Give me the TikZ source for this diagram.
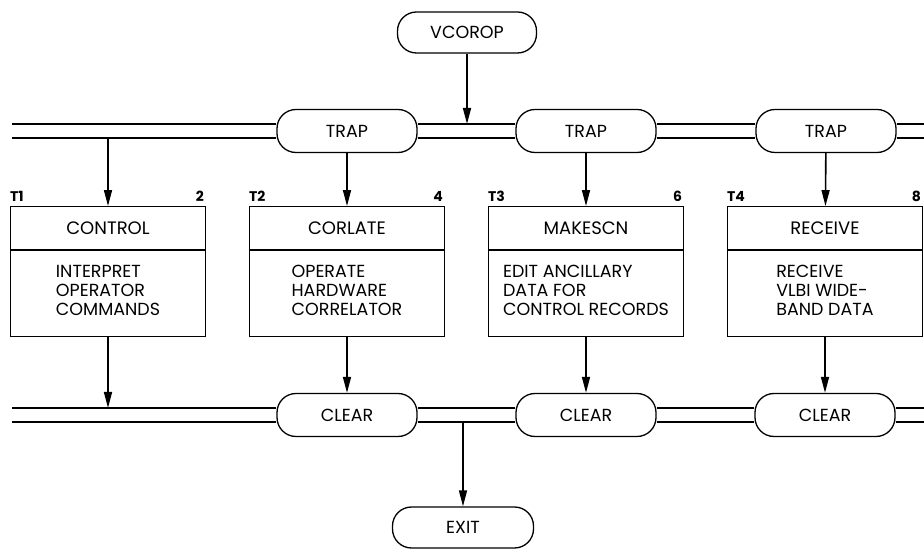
\documentclass[tikz,border=0pt]{standalone}
\usepackage{fontspec}
\setmainfont{Poppins}
\usetikzlibrary{positioning,shapes.multipart,arrows.meta}

\begin{document}
\begin{tikzpicture}[x=1pt,y=1pt,
  every node/.style={scale=1.0},
  pill/.style={rectangle,rounded corners=19pt,draw,line width=1.3pt,minimum width=140pt,minimum height=43pt,inner sep=0pt,font=\fontsize{17.5}{19}\selectfont},
  task/.style={rectangle split,rectangle split parts=2,draw,line width=1.3pt,inner sep=0pt,font=\fontsize{18}{19}\selectfont},
  tag/.style={inner sep=0pt,font=\fontsize{14}{16}\selectfont\bfseries},
  bus/.style={line width=1.2pt},
  flow/.style={line width=1.6pt,-{Triangle[length=16pt,width=8pt]}},
]
\useasboundingbox (0,0) rectangle (924,551);

\node (vcorop) [pill,minimum width=139pt,minimum height=41pt] at (467,518.5) {VCOROP};

\node (trapa) [pill] at (347,420) {TRAP};
\node (trapb) [pill] at (586,420) {TRAP};
\node (trapc) [pill] at (826,420) {TRAP};

\node (control) [task] at (108,279.5) {
\nodepart{one}\parbox[c][42pt][c]{195pt}{\centering CONTROL}
\nodepart{two}\parbox[c][85pt][c]{195pt}{\centering\fontsize{17.5}{19}\selectfont\begin{tabular}{@{}l@{}}INTERPRET\\OPERATOR\\COMMANDS\end{tabular}}
};
\node (corlate) [task] at (trapa |- control) {
\nodepart{one}\parbox[c][42pt][c]{195pt}{\centering CORLATE}
\nodepart{two}\parbox[c][85pt][c]{195pt}{\centering\fontsize{17.5}{19}\selectfont\begin{tabular}{@{}l@{}}OPERATE\\HARDWARE\\CORRELATOR\end{tabular}}
};
\node (makescn) [task] at (trapb |- control) {
\nodepart{one}\parbox[c][42pt][c]{195pt}{\centering MAKESCN}
\nodepart{two}\parbox[c][85pt][c]{195pt}{\centering\fontsize{17.5}{19}\selectfont\begin{tabular}{@{}l@{}}EDIT ANCILLARY\\DATA FOR\\CONTROL RECORDS\end{tabular}}
};
\node (receive) [task] at (825,279.5) {
\nodepart{one}\parbox[c][42pt][c]{195pt}{\centering RECEIVE}
\nodepart{two}\parbox[c][85pt][c]{195pt}{\centering\fontsize{17.5}{19}\selectfont\begin{tabular}{@{}l@{}}RECEIVE\\VLBI WIDE-\\BAND DATA\end{tabular}}
};

\node (t1) [tag,above right=4pt and 0pt of control.north west] {T1};
\node (n2) [tag,above left=4pt and 2pt of control.north east] {2};
\node (t2) [tag,above right=4pt and 0pt of corlate.north west] {T2};
\node (n4) [tag,above left=4pt and 2pt of corlate.north east] {4};
\node (t3) [tag,above right=4pt and 0pt of makescn.north west] {T3};
\node (n6) [tag,above left=4pt and 2pt of makescn.north east] {6};
\node (t4) [tag,above right=4pt and 0pt of receive.north west] {T4};
\node (n8) [tag,above left=4pt and 2pt of receive.north east] {8};

\node (cleara) [pill] at (347,136) {CLEAR};
\node (clearb) [pill] at (586,136) {CLEAR};
\node (clearc) [pill] at (825,136) {CLEAR};

\node (exit) [pill,minimum width=141pt,minimum height=41pt] at (463,23.5) {EXIT};

% the two buses
\coordinate (upl) at (12,420);
\coordinate (upr) at (924,420);
\coordinate (lol) at (12,136);
\coordinate (lor) at (924,136);
\foreach \s in {7,-7} {
  \draw[bus] ([yshift=\s pt]upl) -- ([yshift=\s pt]trapa.west);
  \draw[bus] ([yshift=\s pt]trapa.east) -- ([yshift=\s pt]trapb.west);
  \draw[bus] ([yshift=\s pt]trapb.east) -- ([yshift=\s pt]trapc.west);
  \draw[bus] ([yshift=\s pt]trapc.east) -- ([yshift=\s pt]upr);
  \draw[bus] ([yshift=\s pt]lol) -- ([yshift=\s pt]cleara.west);
  \draw[bus] ([yshift=\s pt]cleara.east) -- ([yshift=\s pt]clearb.west);
  \draw[bus] ([yshift=\s pt]clearb.east) -- ([yshift=\s pt]clearc.west);
  \draw[bus] ([yshift=\s pt]clearc.east) -- ([yshift=\s pt]lor);
}

\coordinate (vin) at (467,427);
\coordinate (tin) at (108,413);
\coordinate (tout) at (108,143);
\coordinate (xout) at (463,129);

\draw[flow] (vcorop) -- (vin);
\draw[flow] (tin) -- (control);
\draw[flow] (trapa) -- (corlate);
\draw[flow] (trapb) -- (makescn);
\draw[flow] (trapc) -- (receive);
\draw[flow] (control) -- (tout);
\draw[flow] (corlate) -- (cleara);
\draw[flow] (makescn) -- (clearb);
\draw[flow] (receive) -- (clearc);
\draw[flow] (xout) -- (exit);
\end{tikzpicture}
\end{document}
